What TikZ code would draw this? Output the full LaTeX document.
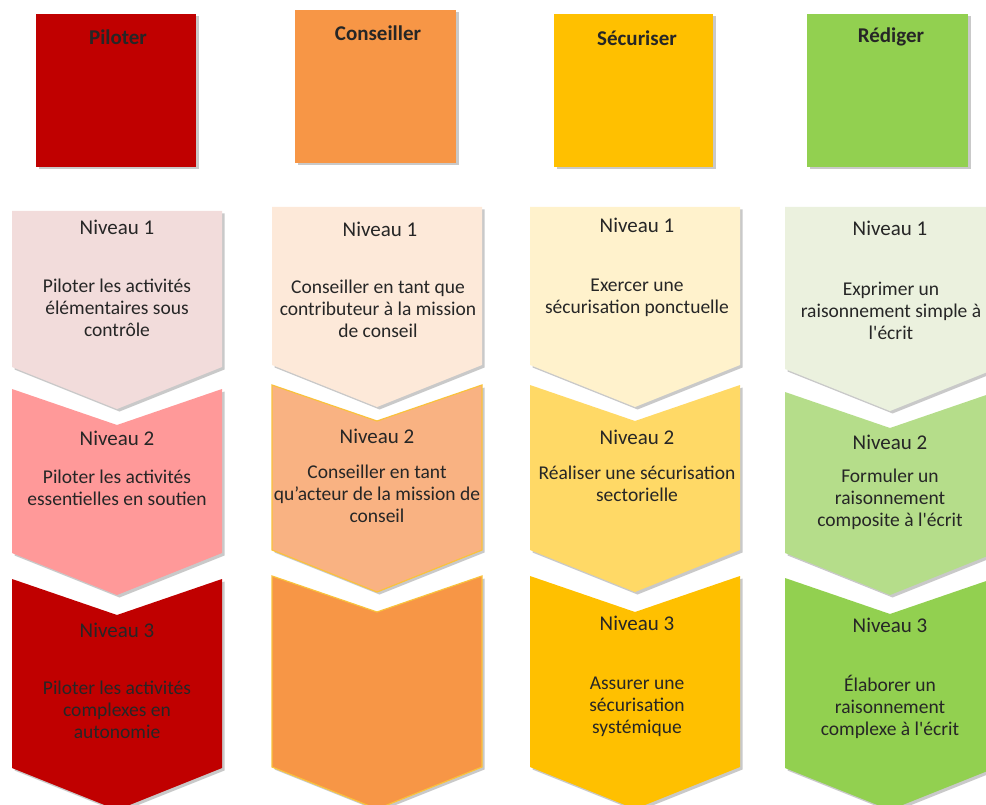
\documentclass[tikz,border=0pt]{standalone}
\usepackage{fontspec}
\setmainfont{Carlito}
\usepackage{xcolor}
\usetikzlibrary{shadows}

\definecolor{pilA}{HTML}{C00000}
\definecolor{pilB}{HTML}{F2DCDB}
\definecolor{pilC}{HTML}{FF9999}
\definecolor{conA}{HTML}{F79646}
\definecolor{conB}{HTML}{FDE9D9}
\definecolor{conC}{HTML}{F9B282}
\definecolor{conL}{HTML}{F9C23C}
\definecolor{secA}{HTML}{FFC000}
\definecolor{secB}{HTML}{FFF2CC}
\definecolor{secC}{HTML}{FFD966}
\definecolor{redA}{HTML}{92D050}
\definecolor{redB}{HTML}{EBF1DE}
\definecolor{redC}{HTML}{B5DD8A}

\begin{document}
\begin{tikzpicture}[x=1pt, y=-1pt,
  shdw/.style={drop shadow={shadow xshift=2.5pt, shadow yshift=-2.5pt, opacity=0.3, fill=black!70}},
  titre/.style={font=\fontsize{21}{25}\selectfont\bfseries, text=black!85},
  niv/.style={font=\fontsize{21}{25}\selectfont, text=black!85},
  txt/.style={font=\fontsize{19.5}{22}\selectfont, text=black!85, align=center}]
  \useasboundingbox (0,0) rectangle (986,805);

  % top squares
  \fill[pilA, shdw] (36,14) rectangle (196,167);
  \fill[conA, shdw] (295,10) rectangle (456,163);
  \fill[secA, shdw] (554,14) rectangle (713,167);
  \fill[redA, shdw] (807,14) rectangle (968,167);
  \node[titre] (pil-t) at (118,37) {Piloter};
  \node[titre] (con-t) at (378,33) {Conseiller};
  \node[titre] (sec-t) at (637,38) {Sécuriser};
  \node[titre] (red-t) at (891,37) {Rédiger};

  % Piloter
  \fill[pilB, shdw] (12,211) -- (222,211) -- (222,367) -- (117,409) -- (12,367) -- cycle;
  \fill[pilC, shdw] (12,389) -- (117,425) -- (222,389) -- (222,553) -- (117,595) -- (12,553) -- cycle;
  \fill[pilA, shdw] (12,579) -- (117,615) -- (222,579) -- (222,768) -- (117,810) -- (12,768) -- cycle;
  \node[niv] (pil-n1) at (117,227) {Niveau 1};
  \node[txt] (pil-1) at (117,308) {Piloter les activités\\élémentaires sous\\contrôle};
  \node[niv] (pil-n2) at (117,438) {Niveau 2};
  \node[txt] (pil-2) at (117,488) {Piloter les activités\\essentielles en soutien};
  \node[niv] (pil-n3) at (117,630) {Niveau 3};
  \node[txt] (pil-3) at (117,710) {Piloter les activités\\complexes en\\autonomie};

  % Conseiller
  \fill[conB, shdw] (272,207) -- (482,207) -- (482,365) -- (377,407) -- (272,365) -- cycle;
  \filldraw[fill=conC, draw=conL, line width=1.2pt, shdw] (272,385) -- (377,421) -- (482,385) -- (482,550) -- (377,592) -- (272,550) -- cycle;
  \filldraw[fill=conA, draw=conL, line width=1.2pt, shdw] (272,576) -- (377,612) -- (482,576) -- (482,767) -- (377,809) -- (272,767) -- cycle;
  \node[niv] (con-n1) at (380,229) {Niveau 1};
  \node[txt] (con-1) at (378,309) {Conseiller en tant que\\contributeur à la mission\\de conseil};
  \node[niv] (con-n2) at (377,436) {Niveau 2};
  \node[txt] (con-2) at (377,494) {Conseiller en tant\\qu’acteur de la mission de\\conseil};

  % Sécuriser
  \fill[secB, shdw] (530,207) -- (740,207) -- (740,365) -- (635,407) -- (530,365) -- cycle;
  \fill[secC, shdw] (530,385) -- (635,421) -- (740,385) -- (740,550) -- (635,592) -- (530,550) -- cycle;
  \fill[secA, shdw] (530,576) -- (635,612) -- (740,576) -- (740,767) -- (635,809) -- (530,767) -- cycle;
  \node[niv] (sec-n1) at (637,225) {Niveau 1};
  \node[txt] (sec-1) at (637,298) {Exercer une\\sécurisation ponctuelle};
  \node[niv] (sec-n2) at (637,437) {Niveau 2};
  \node[txt] (sec-2) at (637,484) {Réaliser une sécurisation\\sectorielle};
  \node[niv] (sec-n3) at (637,623) {Niveau 3};
  \node[txt] (sec-3) at (637,707) {Assurer une\\sécurisation\\systémique};

  % Rédiger
  \fill[redB, shdw] (785,207) -- (995,207) -- (995,369) -- (890,411) -- (785,369) -- cycle;
  \fill[redC, shdw] (785,392) -- (890,428) -- (995,392) -- (995,553) -- (890,595) -- (785,553) -- cycle;
  \fill[redA, shdw] (785,578) -- (890,614) -- (995,578) -- (995,768) -- (890,810) -- (785,768) -- cycle;
  \node[niv] (red-n1) at (890,228) {Niveau 1};
  \node[txt] (red-1) at (891,311) {Exprimer un\\raisonnement simple à\\l\textquotesingle écrit};
  \node[niv] (red-n2) at (890,442) {Niveau 2};
  \node[txt] (red-2) at (890,499) {Formuler un\\raisonnement\\composite à l\textquotesingle écrit};
  \node[niv] (red-n3) at (890,625) {Niveau 3};
  \node[txt] (red-3) at (890,707) {Élaborer un\\raisonnement\\complexe à l\textquotesingle écrit};
\end{tikzpicture}
\end{document}
